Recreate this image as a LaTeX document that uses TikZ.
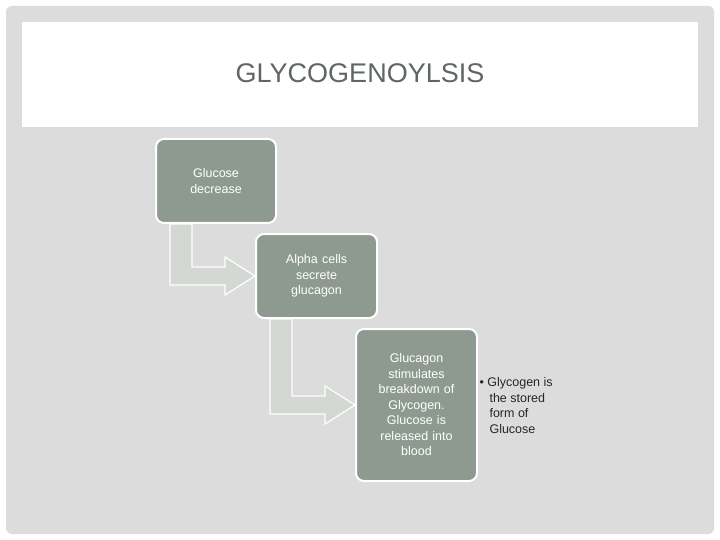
\documentclass[tikz,border=0pt]{standalone}
\usepackage{fontspec}
\setmainfont{Liberation Sans}
\usetikzlibrary{positioning, calc}
\definecolor{slidebg}{HTML}{DCDCDC}
\definecolor{boxfill}{HTML}{8E9A90}
\definecolor{arrowfill}{HTML}{D3D8D3}
\definecolor{titlegray}{HTML}{5F6664}
\begin{document}
\begin{tikzpicture}[
    x=1pt, y=-1pt,
    stepbox/.style={draw=white, line width=2pt, fill=boxfill, rounded corners=8pt,
        text=white, font=\fontsize{12.5}{15.5}\selectfont, align=center, anchor=north west},
    bend arrow/.style={draw=white, line width=1.2pt, fill=arrowfill}
]
% ===== background =====
\useasboundingbox (0,0) rectangle (720,540);
\fill[white] (0,0) rectangle (720,540);
\fill[slidebg, rounded corners=6pt] (6,6) rectangle (714,534);
\fill[white] (22,22) rectangle (698,127);
\node[font=\fontsize{27}{30}\selectfont, text=titlegray] (title) at (360,73) {GLYCOGENOYLSIS};

% ===== steps =====
\node[stepbox, minimum width=120, minimum height=84, text width=110] (glucose) at (155,138) {Glucose\\decrease};
\node[stepbox, minimum width=121, minimum height=84, text width=110] (alpha) at (255,233) {Alpha cells\\secrete\\glucagon};
\node[stepbox, minimum width=121, minimum height=152, text width=110] (glucagon) at (355,328)
    {Glucagon\\stimulates\\breakdown of\\Glycogen.\\Glucose is\\released into\\blood};

% ===== bent arrows =====
\foreach \from/\to in {glucose/alpha, alpha/glucagon} {
    \draw[bend arrow]
        ($(\from.south west)+(15,0)$) -- ($(\from.south west)+(37,0)$)
        |- ($(\to.west)+(-30,-9)$) -- ($(\to.west)+(-30,-19)$)
        -- (\to.west) -- ($(\to.west)+(-30,19)$) -- ($(\to.west)+(-30,9)$)
        -| cycle;
}

% ===== note =====
\node[anchor=north west, font=\fontsize{12.5}{15.5}\selectfont, align=left, text=black!85] (note)
    at (476,374) {\textbullet\ Glycogen is\\\hspace{0.8em}the stored\\\hspace{0.8em}form of\\\hspace{0.8em}Glucose};
\end{tikzpicture}
\end{document}
